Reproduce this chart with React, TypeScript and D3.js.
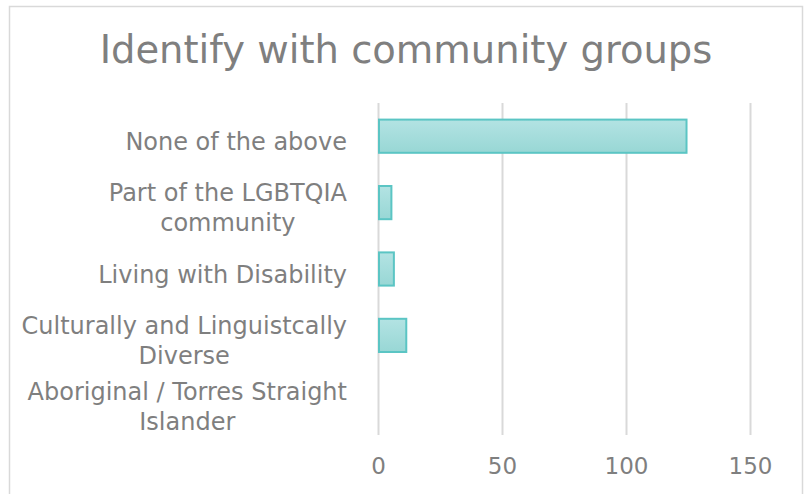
import React from "react";
import * as d3 from "d3";

// categories top to bottom, as they appear in the chart
const categories = [
  ["None of the above"],
  ["Part of the LGBTQIA", "community"],
  ["Living with Disability"],
  ["Culturally and Linguistcally", "Diverse"],
  ["Aboriginal / Torres Straight", "Islander"],
];
const counts = [124, 5, 6, 11, 0];
const xTicks = [0, 50, 100, 150];
const title = "Identify with community groups";

const width = 808;
const height = 494;
const plot = { left: 378.5, right: 750.5, top: 103, bottom: 435 };
const labelRight = 347;
const font = "DejaVu Sans, Verdana, sans-serif";
const textColor = "#7f7f7f";
const labelSize = 24;
const tickSize = 23;

// measure text width so wrapped lines can be centred on each other
const measure = (() => {
  let ctx: CanvasRenderingContext2D | null = null;
  return (s: string, size: number) => {
    if (!ctx) ctx = document.createElement("canvas").getContext("2d");
    if (!ctx) return s.length * size * 0.6;
    ctx.font = `${size}px ${font}`;
    return ctx.measureText(s).width;
  };
})();

const App = () => {
  const keys = categories.map((c) => c.join(" "));

  const x = d3.scaleLinear().domain([0, 150]).range([plot.left, plot.right]);
  const y = d3
    .scaleBand<string>()
    .domain(keys)
    .range([plot.top, plot.bottom])
    .paddingInner(0.5)
    .paddingOuter(0.25);

  return (
    <svg
      width={width}
      height={height}
      style={{ position: "absolute", left: 0, top: 0, background: "#fff" }}
    >
      <defs>
        <linearGradient id="barFill" x1="0" y1="0" x2="0" y2="1">
          <stop offset="0%" stopColor="#b3e3e3" />
          <stop offset="100%" stopColor="#98d7d5" />
        </linearGradient>
      </defs>
      <rect x={9.5} y={6.5} width={793} height={520} fill="#fff" stroke="#d9d9d9" strokeWidth={1.5} />

      <text
        x={406}
        y={63}
        textAnchor="middle"
        fontFamily={font}
        fontSize={38.5}
        fill={textColor}
      >
        {title}
      </text>

      {/* vertical gridlines */}
      {xTicks.map((t) => (
        <line
          key={t}
          x1={x(t)}
          x2={x(t)}
          y1={plot.top}
          y2={plot.bottom}
          stroke="#d9d9d9"
          strokeWidth={2}
        />
      ))}

      {/* x tick labels */}
      {xTicks.map((t) => (
        <text
          key={"l" + t}
          x={x(t)}
          y={474}
          textAnchor="middle"
          fontFamily={font}
          fontSize={tickSize}
          fill={textColor}
        >
          {t}
        </text>
      ))}

      {/* bars */}
      {keys.map((k, i) =>
        counts[i] > 0 ? (
          <rect
            key={k}
            x={x(0) + 0.5}
            y={y(k)!}
            width={x(counts[i]) - x(0)}
            height={y.bandwidth()}
            fill="url(#barFill)"
            stroke="#5bc5c4"
            strokeWidth={2}
          />
        ) : null
      )}

      {/* category labels */}
      {categories.map((lines, i) => {
        const c = y(keys[i])! + y.bandwidth() / 2;
        const w = Math.max(...lines.map((l) => measure(l, labelSize)));
        const cx = labelRight - w / 2;
        const n = lines.length;
        return (
          <text
            key={keys[i]}
            textAnchor="middle"
            fontFamily={font}
            fontSize={labelSize}
            fill={textColor}
          >
            {lines.map((l, j) => (
              <tspan key={j} x={cx} y={c + 13.5 - (n - 1) * 15 + j * 30}>
                {l}
              </tspan>
            ))}
          </text>
        );
      })}
    </svg>
  );
};

export default App;
